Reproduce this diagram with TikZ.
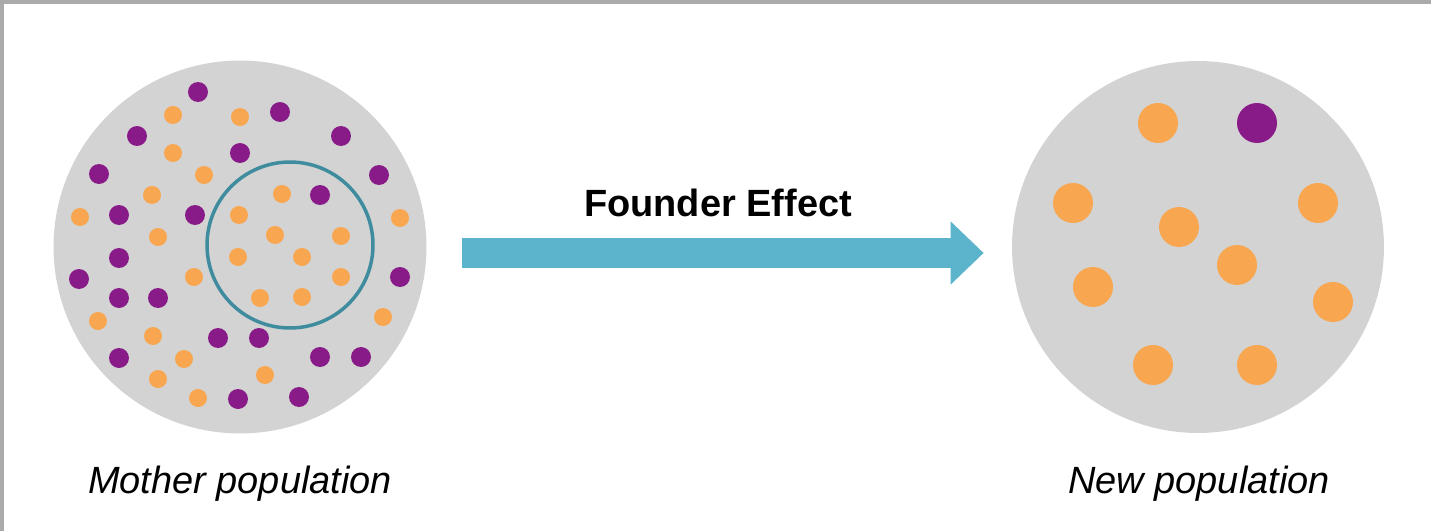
\documentclass[tikz,border=0pt]{standalone}
\usepackage{fontspec}
\setmainfont{Liberation Sans}
\usepackage{tikz}
\usetikzlibrary{arrows.meta,positioning}
\definecolor{dishgray}{RGB}{211,211,211}
\definecolor{plum}{RGB}{137,27,136}
\definecolor{apricot}{RGB}{249,166,80}
\definecolor{founderteal}{RGB}{62,140,158}
\definecolor{arrowblue}{RGB}{92,180,204}
\definecolor{framegray}{RGB}{170,170,170}
\tikzstyle{dish}=[circle,fill=dishgray,minimum size=7.46cm,inner sep=0pt]
\tikzstyle{purple dot}=[circle,fill=plum,minimum size=0.4cm,inner sep=0pt]
\tikzstyle{orange dot}=[circle,fill=apricot,minimum size=0.36cm,inner sep=0pt]
\tikzstyle{big purple}=[purple dot,minimum size=0.8cm]
\tikzstyle{big orange}=[orange dot,minimum size=0.8cm]
\tikzstyle{caption}=[font=\fontsize{21.6}{26}\selectfont\itshape,anchor=base]

\begin{document}
\begin{tikzpicture}[x=0.02cm,y=-0.02cm]
    \useasboundingbox (0,0) rectangle (1431,531);
    % Frame lines on top and left
    \fill[framegray] (0,0) rectangle (1431,4);
    \fill[framegray] (0,0) rectangle (4,531);

    % The two populations
    \node[dish] (mother) at (240,247) {};
    \node[dish,minimum size=7.44cm] (new) at (1198,247) {};

    % Dots of the mother population
    \foreach \pos [count=\i] in {(198,92), (280,112), (137,136), (341,136), (240,153), (99,174), (379,175), (320,195), (119,215), (195,215), (119,258), (79,279), (400,277), (119,298), (158,298), (218,338), (259,338), (119,358), (320,357), (361,357), (238,399), (299,397)}
        \node[purple dot] (mp\i) at \pos {};

    \foreach \pos [count=\i] in {(173,115), (240,117), (173,153), (204,175), (152,195), (282,194), (80,217), (239,215), (400,218), (158,237), (275,235), (341,236), (238,257), (302,257), (194,277), (341,277), (260,298), (302,297), (98,321), (383,317), (153,336), (184,359), (265,375), (158,379), (198,398)}
        \node[orange dot] (mo\i) at \pos {};

    % The founders
    \node[circle,draw=founderteal,line width=0.07cm,minimum size=3.32cm,inner sep=0pt] (founders) at (290,245) {};

    % Dots of the new population
    \node[big purple] (np1) at (1257,123) {};
    \foreach \pos [count=\i] in {(1158,123), (1073,203), (1318,203), (1179,227), (1237,265), (1093,287), (1333,302), (1153,365), (1257,365)}
        \node[big orange] (no\i) at \pos {};

    % Arrow between them
    \draw[arrowblue,line width=0.62cm,-{Triangle[width=1.22cm,length=0.66cm]},
        shorten <=0.7cm,shorten >=0.56cm] ([yshift=-0.12cm]mother.east) -- ([yshift=-0.12cm]new.west);
    \node[font=\fontsize{21.6}{26}\selectfont\bfseries,anchor=base] (title) at (718,216) {Founder Effect};

    % Captions
    \node[caption] (mothercap) at (240,493) {Mother population};
    \node[caption] (newcap) at (1199,493) {New population};
\end{tikzpicture}
\end{document}
